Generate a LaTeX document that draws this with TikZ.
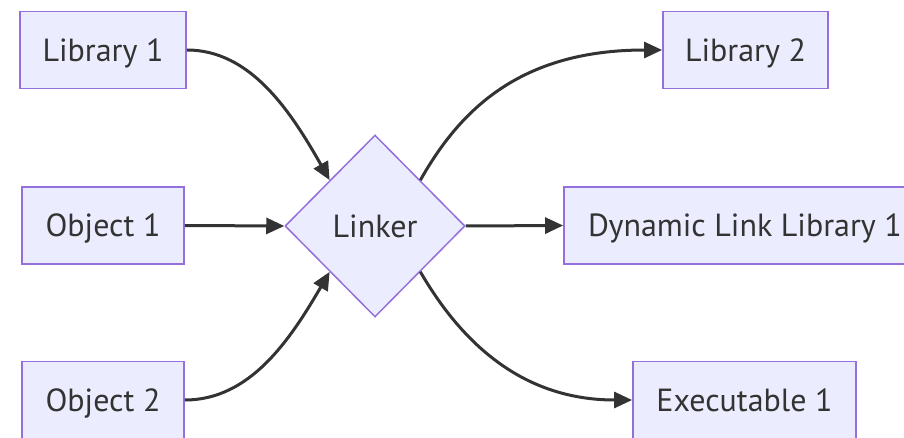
\documentclass[tikz,border=0pt]{standalone}
\usepackage{fontspec}
\setmainfont{PT Sans}
\usetikzlibrary{shapes.geometric,arrows.meta}
\definecolor{boxfill}{HTML}{ECECFF}
\definecolor{boxline}{HTML}{9370DB}
\definecolor{ink}{HTML}{333333}
\newcommand{\lbl}[1]{\raisebox{-11.5pt}[0pt][0pt]{#1}}
\tikzset{
  box/.style={draw=boxline, fill=boxfill, line width=1.8pt, minimum height=77pt, inner sep=0pt, text=ink, font=\fontsize{32}{36}\selectfont},
  gate/.style={diamond, draw=boxline, fill=boxfill, line width=1.5pt, minimum width=180pt, minimum height=182pt, inner sep=0pt, text=ink, font=\fontsize{32}{36}\selectfont},
  link/.style={draw=ink, line width=3pt, -{Triangle[length=18pt,width=16pt]}}
}
\begin{document}
\begin{tikzpicture}[x=1pt,y=-1pt]
\useasboundingbox (0,0) rectangle (904,438);
\begin{scope}
\clip (0,0) rectangle (904,438);
\node[box, minimum width=166pt] (lib1) at (103,50) {\lbl{Library 1}};
\node[box, minimum width=162pt] (obj1) at (103,225.5) {\lbl{Object 1}};
\node[box, minimum width=162pt] (obj2) at (103,400) {\lbl{Object 2}};
\node[gate] (lnk) at (375,226) {\lbl{Linker}};
\node[box, minimum width=165pt] (lib2) at (745.5,50) {\lbl{Library 2}};
\node[box, minimum width=362pt] (dll) at (745,225.5) {\lbl{Dynamic Link Library 1}};
\node[box, minimum width=223pt] (exe) at (744.5,400) {\lbl{Executable 1}};
\draw[link] (lib1.east) .. controls (250,50) and (290,110) .. (lnk.north west);
\draw[link] (obj1.east) -- (lnk.west);
\draw[link] (obj2.east) .. controls (250,400) and (290,340) .. (lnk.south west);
\draw[link] (lnk.north east) .. controls (460,110) and (520,50) .. (lib2.west);
\draw[link] (lnk.east) -- (dll.west);
\draw[link] (lnk.south east) .. controls (460,340) and (520,400) .. (exe.west);
\end{scope}
\end{tikzpicture}
\end{document}
